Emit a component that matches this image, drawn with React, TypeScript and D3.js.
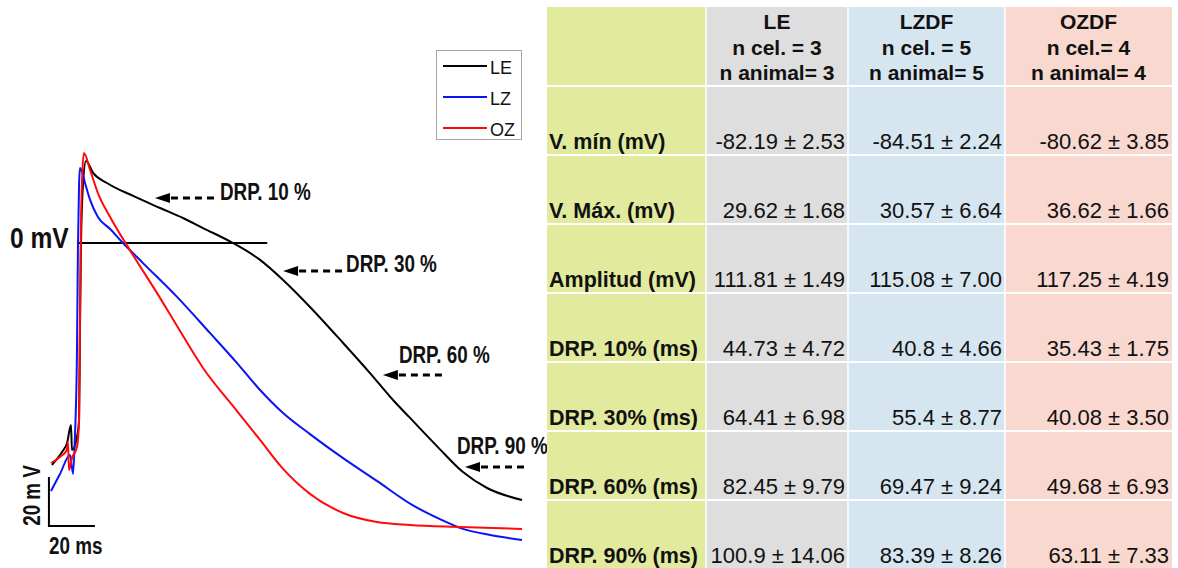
import React from 'react';
import * as d3 from 'd3';

// traces: [time (ms), membrane potential (mV)]
const LE_TRACE: [number, number][] = [
  [0.4, -90.6], [4.8, -85.3], [7.0, -81.6], [8.7, -74.3], [9.1, -84.5], [11.3, -79.2],
  [12.2, -72.2], [12.6, -35.5], [13.0, -2.9], [13.9, 23.7], [15.2, 33.5], [18.3, 28.6],
  [24.3, 24.5], [35.7, 19.2], [47.4, 14.3], [57.4, 10.2], [66.1, 6.1], [79.1, 0],
  [90.9, -6.9], [100.9, -15.1], [112.6, -26.1], [127.0, -40.8], [138.7, -53.1],
  [148.7, -64.1], [156.1, -71.4], [167.8, -82.9], [179.1, -93.5], [189.6, -100.0], [204.8, -104.9],
];
const LZ_TRACE: [number, number][] = [
  [0, -101.2], [3.9, -94.3], [8.3, -86.5], [9.6, -94.3], [10.4, -79.2], [11.3, -43.7],
  [11.7, -2.9], [12.2, 23.7], [12.6, 30.6], [13.5, 29.0], [14.8, 24.5], [17.0, 17.6],
  [20.4, 10.6], [25.7, 5.7], [31.3, 0], [40.0, -8.2], [54.8, -22.0], [69.1, -36.7],
  [80.9, -49.0], [90.9, -60.0], [100.9, -69.4], [112.6, -78.0], [127.0, -87.8],
  [141.7, -97.1], [157.0, -106.9], [169.1, -112.7], [179.1, -116.7], [190.9, -119.2], [204.8, -121.2],
];
const OZ_TRACE: [number, number][] = [
  [0, -89.8], [3.9, -87.3], [6.9, -84.5], [7.4, -81.2], [7.8, -92.7], [9.1, -87.8],
  [11.3, -83.3], [12.2, -72.2], [12.6, -31.4], [13.0, 5.3], [13.5, 25.7], [14.3, 36.7],
  [17.0, 29.8], [20.4, 20.4], [25.7, 10.6], [34.3, -2.9], [47.4, -22.4], [54.8, -33.9],
  [66.1, -51.0], [80.9, -68.6], [90.9, -80.4], [100.9, -92.2], [112.6, -102.4],
  [127.0, -110.2], [141.7, -113.9], [156.1, -115.1], [177.8, -115.9], [204.8, -116.7],
];

const SERIES = ['LE', 'LZ', 'OZ'];
const SERIES_COLORS = ['#000000', '#0a14f5', '#ff0a0a'];

// DRP markers: where each arrow points (ms, mV) and where its label sits relative to the tip
const DRP_LABELS = ['DRP. 10 %', 'DRP. 30 %', 'DRP. 60 %', 'DRP. 90 %'];
const DRP_TIPS: [number, number][] = [[45.2, 18.4], [100.9, -11.4], [144.3, -53.9], [180.0, -91.4]];
const DRP_TEXT_OFFSET: [number, number][] = [[65, 2], [63, 1], [16, -12], [-8, -13]];

// table
const GROUPS = ['LE', 'LZDF', 'OZDF'];
const N_CEL = ['n cel. = 3', 'n cel. = 5', 'n cel.= 4'];
const N_ANIMAL = ['n animal= 3', 'n animal= 5', 'n animal= 4'];
const ROW_LABELS = ['V. mín (mV)', 'V. Máx. (mV)', 'Amplitud (mV)', 'DRP. 10% (ms)', 'DRP. 30% (ms)', 'DRP. 60% (ms)', 'DRP. 90% (ms)'];
const LE_VALUES = ['-82.19 ± 2.53', '29.62 ± 1.68', '111.81 ± 1.49', '44.73 ± 4.72', '64.41 ± 6.98', '82.45 ± 9.79', '100.9 ± 14.06'];
const LZDF_VALUES = ['-84.51 ± 2.24', '30.57 ± 6.64', '115.08 ± 7.00', '40.8 ± 4.66', '55.4 ± 8.77', '69.47 ± 9.24', '83.39 ± 8.26'];
const OZDF_VALUES = ['-80.62 ± 3.85', '36.62 ± 1.66', '117.25 ± 4.19', '35.43 ± 1.75', '40.08 ± 3.50', '49.68 ± 6.93', '63.11 ± 7.33'];
const COL_COLORS = ['#e2ea9e', '#dedede', '#d6e6f0', '#f8d8cf'];

const W = 1178;
const H = 568;
const FONT = "'Liberation Sans', Arial, sans-serif";

const xS = d3.scaleLinear().domain([0, 200]).range([51, 511]);
const yS = d3.scaleLinear().domain([0, -100]).range([243, 488]);

const line = d3.line<[number, number]>()
  .x(d => xS(d[0]))
  .y(d => yS(d[1]))
  .curve(d3.curveMonotoneX);

const Narrow: React.FC<{ x: number; y: number; size: number; anchor?: string; rotate?: number; children: React.ReactNode }> =
  ({ x, y, size, anchor = 'start', rotate = 0, children }) => (
    <text
      transform={`translate(${x},${y}) rotate(${rotate}) scale(0.82,1)`}
      fontFamily={FONT}
      fontWeight="bold"
      fontSize={size}
      textAnchor={anchor}
      fill="#111"
    >
      {children}
    </text>
  );

const App: React.FC = () => {
  const traces = [LE_TRACE, LZ_TRACE, OZ_TRACE];
  const valueCols = [LE_VALUES, LZDF_VALUES, OZDF_VALUES];

  // table layout
  const colEdges = [547, 706, 848, 1005, 1172];
  const top = 7;
  const headerBottom = 86;
  const rowY = d3.scaleBand<string>().domain(ROW_LABELS).range([headerBottom, headerBottom + 69 * ROW_LABELS.length]);

  // scale bar anchor (ms, mV)
  const sbT = -0.9;
  const sbV = -115.5;

  return (
    <svg width={W} height={H} style={{ position: 'absolute', left: 0, top: 0, background: '#fff' }}>
      {/* zero line */}
      <line x1={xS(11.3)} x2={xS(94)} y1={yS(0)} y2={yS(0)} stroke="#000" strokeWidth={2} />
      <Narrow x={10} y={yS(0) + 5} size={30}>0 mV</Narrow>

      {/* traces */}
      {traces.map((t, i) => (
        <path key={SERIES[i]} d={line(t) || ''} fill="none" stroke={SERIES_COLORS[i]} strokeWidth={2} strokeLinejoin="round" />
      ))}

      {/* DRP arrows */}
      {DRP_LABELS.map((lab, i) => {
        const x = xS(DRP_TIPS[i][0]);
        const y = yS(DRP_TIPS[i][1]);
        return (
          <g key={lab}>
            <polygon points={`${x},${y} ${x + 15},${y - 5} ${x + 15},${y + 5}`} fill="#000" />
            <line x1={x + 16} x2={x + 64} y1={y} y2={y} stroke="#000" strokeWidth={3} strokeDasharray="7,5" />
            <Narrow x={x + DRP_TEXT_OFFSET[i][0]} y={y + DRP_TEXT_OFFSET[i][1]} size={23}>{lab}</Narrow>
          </g>
        );
      })}

      {/* scale bar */}
      <path
        d={`M${xS(sbT)},${yS(sbV + 20)} V${yS(sbV)} H${xS(sbT + 20)}`}
        fill="none"
        stroke="#000"
        strokeWidth={2}
      />
      <Narrow x={xS(sbT) - 9} y={(yS(sbV) + yS(sbV + 20)) / 2 - 6} size={23} anchor="middle" rotate={-90}>20 m V</Narrow>
      <Narrow x={xS(sbT)} y={yS(sbV) + 28} size={23}>20 ms</Narrow>

      {/* legend */}
      <g>
        <rect x={436.5} y={50.5} width={85} height={89} fill="#fff" stroke="#a6a6a6" strokeWidth={1} />
        {SERIES.map((s, i) => (
          <g key={s} transform={`translate(0,${66 + i * 31})`}>
            <line x1={443} x2={487} y1={0} y2={0} stroke={SERIES_COLORS[i]} strokeWidth={2} />
            <text x={490} y={8} fontFamily={FONT} fontSize={18} fill="#111">{s}</text>
          </g>
        ))}
      </g>

      {/* table */}
      <g>
        {COL_COLORS.map((c, i) => (
          <rect key={c} x={colEdges[i]} y={top} width={colEdges[i + 1] - colEdges[i]} height={H - top} fill={c} />
        ))}
        {colEdges.slice(1, -1).map(x => (
          <line key={x} x1={x} x2={x} y1={top} y2={H} stroke="#fff" strokeWidth={1.5} />
        ))}
        {[headerBottom, ...ROW_LABELS.slice(0, -1).map(r => (rowY(r) || 0) + rowY.bandwidth())].map(y => (
          <line key={y} x1={colEdges[0]} x2={colEdges[4]} y1={y} y2={y} stroke="#fff" strokeWidth={2} />
        ))}

        {GROUPS.map((g, i) => {
          const cx = (colEdges[i + 1] + colEdges[i + 2]) / 2;
          return (
            <g key={g} fontFamily={FONT} fontWeight="bold" fontSize={21} textAnchor="middle" fill="#111">
              <text x={cx} y={29}>{g}</text>
              <text x={cx} y={55}>{N_CEL[i]}</text>
              <text x={cx} y={80}>{N_ANIMAL[i]}</text>
            </g>
          );
        })}

        {ROW_LABELS.map((r, j) => {
          const yb = (rowY(r) || 0) + rowY.bandwidth() - 6;
          return (
            <g key={r} fontFamily={FONT} fill="#111">
              <text x={549} y={yb} fontWeight="bold" fontSize={21.5}>{r}</text>
              {valueCols.map((vals, i) => (
                <text key={i} x={colEdges[i + 2] - 3} y={yb} textAnchor="end" fontSize={22}>{vals[j]}</text>
              ))}
            </g>
          );
        })}
      </g>
    </svg>
  );
};

export default App;
